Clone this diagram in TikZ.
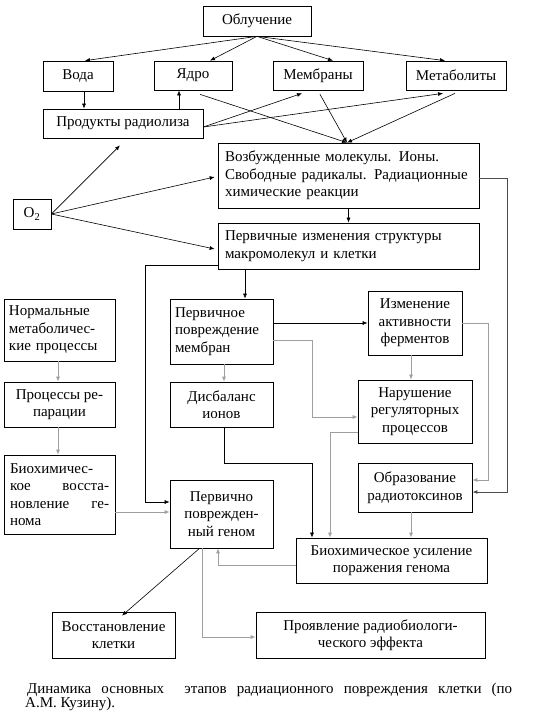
\documentclass[tikz,border=0pt]{standalone}
\usepackage{fontspec}
\setmainfont{Liberation Serif}
\usepackage{tikz}
\usetikzlibrary{arrows.meta}

\tikzset{
    blk/.style={draw, line width=0.7pt, inner sep=0pt, align=center,
        font=\fontsize{15}{17.5}\selectfont},
    lft/.style={blk, align=left},
    arr/.style={-{Latex[length=5pt,width=4pt]}, line width=0.6pt},
    garr/.style={arr, gray!75, line width=0.8pt},
}

\begin{document}
\begin{tikzpicture}[x=1pt, y=-1pt]
        \useasboundingbox (0,0) rectangle (547,723);
        % boxes
        \node[blk, minimum width=108, minimum height=30] (obl) at (257,21) {Облучение};
        \node[blk, minimum width=70, minimum height=30] (voda) at (78,76) {Вода};
        \node[blk, minimum width=78, minimum height=29] (yadro) at (193,75.5) {Ядро};
        \node[blk, minimum width=90, minimum height=29] (membr) at (318,75.5) {Мембраны};
        \node[blk, minimum width=100, minimum height=29] (metab) at (456,75.5) {Метаболиты};
        \node[blk, minimum width=160, minimum height=29] (prod) at (123,123.5) {Продукты радиолиза};
        \node[lft, minimum width=261, minimum height=65, text width=247] (vozb) at (348.5,175.5)
            {Возбужденные молекулы. Ионы.\\Свободные радикалы. Радиационные\\химические реакции};
        \node[blk, minimum width=38, minimum height=30] (otwo) at (32,214) {O\textsubscript{2}};
        \node[lft, minimum width=261, minimum height=46, text width=247] (perv) at (348.5,246)
            {Первичные изменения структуры\\макромолекул и клетки};
        \node[lft, minimum width=111, minimum height=62, text width=101] (norm) at (59.5,330)
            {Нормальные\\метаболичес-\\кие процессы};
        \node[lft, minimum width=103, minimum height=65, text width=93] (pmem) at (221.5,331.5)
            {Первичное\\повреждение\\мембран};
        \node[blk, minimum width=94, minimum height=64] (izm) at (415,323)
            {Изменение\\активности\\ферментов};
        \node[blk, minimum width=111, minimum height=45] (rep) at (59.5,404.5) {Процессы ре-\\парации};
        \node[blk, minimum width=103, minimum height=45] (disb) at (221.5,404.5) {Дисбаланс\\ионов};
        \node[blk, minimum width=114, minimum height=63] (narush) at (415,411.5)
            {Нарушение\\регуляторных\\процессов};
        \node[lft, minimum width=111, minimum height=79, text width=99] (biov) at (59.5,494.5)
            {Биохимичес-\\кое \hfill восста-\\новление \hfill ге-\\нома};
        \node[blk, minimum width=103, minimum height=68] (pgen) at (221.5,514)
            {Первично\\поврежден-\\ный геном};
        \node[blk, minimum width=114, minimum height=49] (obr) at (415,487.5)
            {Образование\\радиотоксинов};
        \node[blk, minimum width=191, minimum height=45] (bius) at (391.5,560.5)
            {Биохимическое усиление\\поражения генома};
        \node[blk, minimum width=123, minimum height=46] (vosst) at (113.5,635)
            {Восстановление\\клетки};
        \node[blk, minimum width=229, minimum height=46] (proyav) at (370.5,635)
            {Проявление радиобиологи-\\ческого эффекта};
        % caption
        \node[anchor=base west, inner sep=0pt, font=\fontsize{15}{17.5}\selectfont] (capa) at (27,693)
            {\makebox[485pt][s]{Динамика основных\ \ этапов радиационного повреждения клетки (по}};
        \node[anchor=base west, inner sep=0pt, font=\fontsize{15}{17.5}\selectfont] (capb) at (25,707)
            {А.М. Кузину).};
        % top part
        \draw[arr] (obl.south) -- ([xshift=7]voda.north);
        \draw[arr] (obl.south) -- ([xshift=17]yadro.north);
        \draw[arr] (obl.south) -- ([xshift=15]membr.north);
        \draw[arr] (obl.south) -- ([xshift=-11]metab.north);
        \draw[arr] ([xshift=6]voda.south) -- ([xshift=6]voda.south |- prod.north);
        \draw[arr] ([xshift=-14]yadro.south |- prod.north) -- ([xshift=-14]yadro.south);
        \draw[arr] ([yshift=-3.5]prod.east) -- ([xshift=-16,yshift=-3]membr.south);
        \draw[arr] ([yshift=-3.5]prod.east) -- ([xshift=-13,yshift=-3]metab.south);
        \draw[arr] ([xshift=7,yshift=-4]yadro.south) -- ([xshift=-1.5]vozb.north);
        \draw[arr] ([xshift=2,yshift=-4]membr.south) -- ([xshift=-1.5]vozb.north);
        \draw[arr] ([xshift=-1,yshift=-3]metab.south) -- ([xshift=-1.5]vozb.north);
        \draw[arr] (otwo.east) -- ([xshift=-3,yshift=-7]prod.south);
        \draw[arr] (otwo.east) -- ([xshift=-3,yshift=-1.5]vozb.west);
        \draw[arr] (otwo.east) -- ([xshift=-3,yshift=-3]perv.west);
        \draw[arr] (vozb.south) -- (perv.north);
        % middle part
        \draw[arr] ([yshift=-19]perv.west) -- ++(-72,0) |- ([yshift=12]pgen.west);
        \draw[arr, gray!60!black, line width=1pt] ([yshift=-2.5]vozb.east) -- ++(28,0) |- ([yshift=-4.5]obr.east);
        \draw[arr] ([xshift=23.5]pmem.north |- perv.south) -- ([xshift=23.5]pmem.north);
        \draw[arr] ([yshift=8.5]pmem.east) -- ([yshift=8.5]pmem.east -| izm.west);
        \draw[garr] ([yshift=-8.5]pmem.east) -- ++(39,0) |- ([yshift=-5.5]narush.west);
        \draw[garr] (izm.east) -- ++(26,0) |- ([yshift=7.5]obr.east);
        \draw[garr] ([xshift=-4]izm.south) -- ([xshift=-4]narush.north);
        \draw[garr] ([xshift=2.5]pmem.south) -- ([xshift=2.5]disb.north);
        \draw[arr] ([xshift=2.5]disb.south) -- ++(0,36) -| ([xshift=-79.5]bius.north);
        \draw[garr] ([yshift=-20.5]narush.west) -| ([xshift=-61.5]bius.north);
        \draw[garr] ([xshift=-4]obr.south) -- ([xshift=-4]obr.south |- bius.north);
        % left column
        \draw[garr] ([xshift=-1.5]norm.south) -- ([xshift=-1.5]rep.north);
        \draw[garr] ([xshift=-1.5]rep.south) -- ([xshift=-1.5]biov.north);
        \draw[garr] ([yshift=-17.5]biov.east) -- ([yshift=-17.5]biov.east -| pgen.west);
        % bottom part
        \draw[garr] ([yshift=-4.5]bius.west) -| ([xshift=-3.5]pgen.south);
        \draw[arr] ([xshift=-22]pgen.south) -- ([xshift=8.5,yshift=-4]vosst.north);
        \draw[garr] ([xshift=-19.5]pgen.south) |- ([yshift=-2]proyav.west);
    \end{tikzpicture}
\end{document}
